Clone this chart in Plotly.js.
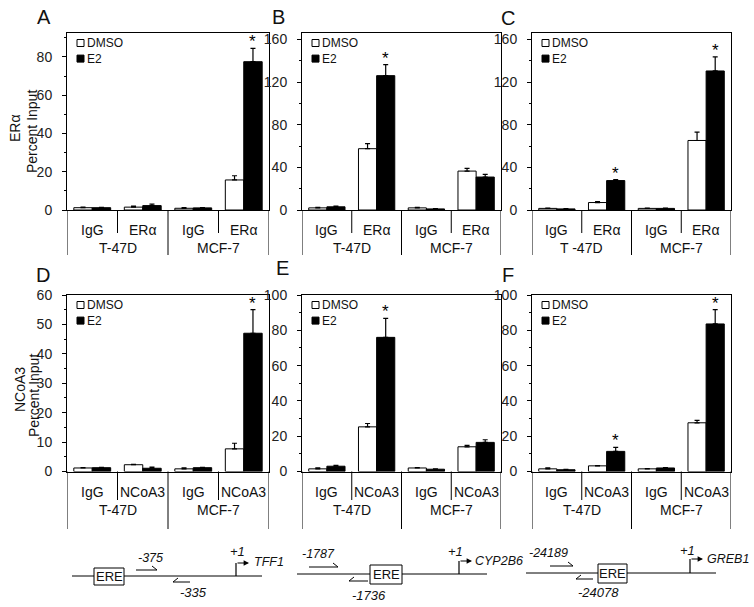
<!DOCTYPE html>
<html><head><meta charset="utf-8">
<script src="https://cdn.plot.ly/plotly-3.0.1.min.js"></script>
<style>body{margin:0;background:#fff}#chart{width:754px;height:607px}</style>
</head><body><div id="chart"></div>
<script>
// ---------------- DATA ----------------
const cellLines   = ["T-47D","T-47D","MCF-7","MCF-7"];
const cellLinesC  = ["T -47D","T -47D","MCF-7","MCF-7"];
const abERa       = ["IgG","ERα","IgG","ERα"];
const abNCoA3     = ["IgG","NCoA3","IgG","NCoA3"];
const seriesNames = ["DMSO","E2"];

const A_dmso = [1.2, 1.5, 0.9, 15.7],  A_dmsoErr = [0.3, 0.5, 0.4, 2.2];
const A_e2   = [1.2, 2.3, 1.1, 77.5],  A_e2Err   = [0.2, 0.8, 0.2, 7.0];
const A_star = [0, 0, 0, 1];
const B_dmso = [2.0, 57.5, 2.0, 36.5], B_dmsoErr = [0.5, 4.7, 0.5, 2.5];
const B_e2   = [3.0, 126, 1.0, 30.9],  B_e2Err   = [0.6, 10.3, 0.4, 2.5];
const B_star = [0, 1, 0, 0];
const C_dmso = [1.5, 7.0, 1.5, 65.2],  C_dmsoErr = [0.3, 0.8, 0.3, 7.8];
const C_e2   = [1.0, 27.6, 1.5, 130.4],C_e2Err   = [0.2, 0.9, 0.3, 13.2];
const C_star = [0, 1, 0, 1];
const D_dmso = [1.2, 2.3, 0.9, 7.7],   D_dmsoErr = [0.1, 0.1, 0.3, 1.9];
const D_e2   = [1.3, 1.1, 1.3, 47.0],  D_e2Err   = [0.1, 0.4, 0.1, 8.0];
const D_star = [0, 0, 0, 1];
const E_dmso = [1.5, 25.3, 2.0, 14.0], E_dmsoErr = [0.5, 1.9, 0.2, 0.8];
const E_e2   = [3.0, 76.0, 1.3, 16.5], E_e2Err   = [0.5, 10.8, 0.2, 1.5];
const E_star = [0, 1, 0, 0];
const F_dmso = [1.5, 3.2, 1.5, 27.6],  F_dmsoErr = [0.5, 0.2, 0.2, 1.4];
const F_e2   = [1.0, 11.4, 2.0, 83.6], F_e2Err   = [0.2, 2.3, 0.2, 8.1];
const F_star = [0, 1, 0, 1];

const yTicksA = [0,20,40,60,80];
const yTicksBC = [0,40,80,120,160];
const yTicksD = [0,10,20,30,40,50,60];
const yTicksEF = [0,20,40,60,80,100];
const panelLetters = ["A","B","C","D","E","F"];
const yTitles = [["ERα","Percent Input"],["NCoA3","Percent Input"]];
const promoters = [
  {gene:"TFF1", fwd:"-375", rev:"-335"},
  {gene:"CYP2B6", fwd:"-1787", rev:"-1736"},
  {gene:"GREB1", fwd:"-24189", rev:"-24078"}
];

// ---------------- LAYOUT HELPERS ----------------
const W = 754, H = 607;
const px = x => x / W, py = y => 1 - y / H;
const FONT = "Liberation Sans, Arial, Helvetica, sans-serif";
const cols = [[67,269],[302,501],[532,731]];
const rows = [
  {top:33, bot:210, inner:230, outer:248, shortEnd:233, longEnd:255},
  {top:295, bot:471.5, inner:491.5, outer:510, shortEnd:500, longEnd:529}
];
const BARGAP = 0.27;
const TXT = 14;
const LEG = 12;

const panels = [
  {dmso:A_dmso, dErr:A_dmsoErr, e2:A_e2, eErr:A_e2Err, star:A_star, ab:abERa, cl:cellLines, range:[0,92.5], ticks:yTicksA, minor:10},
  {dmso:B_dmso, dErr:B_dmsoErr, e2:B_e2, eErr:B_e2Err, star:B_star, ab:abERa, cl:cellLines, range:[0,166], ticks:yTicksBC, minor:20},
  {dmso:C_dmso, dErr:C_dmsoErr, e2:C_e2, eErr:C_e2Err, star:C_star, ab:abERa, cl:cellLinesC, range:[0,166], ticks:yTicksBC, minor:20},
  {dmso:D_dmso, dErr:D_dmsoErr, e2:D_e2, eErr:D_e2Err, star:D_star, ab:abNCoA3, cl:cellLines, range:[0,60], ticks:yTicksD, minor:5},
  {dmso:E_dmso, dErr:E_dmsoErr, e2:E_e2, eErr:E_e2Err, star:E_star, ab:abNCoA3, cl:cellLines, range:[0,100], ticks:yTicksEF, minor:10},
  {dmso:F_dmso, dErr:F_dmsoErr, e2:F_e2, eErr:F_e2Err, star:F_star, ab:abNCoA3, cl:cellLines, range:[0,100], ticks:yTicksEF, minor:10}
];
const letterPos = [[44,17],[278,17],[508,18],[43,275],[282,268],[508,275]];

const data = [], shapes = [], annotations = [];
const layout = {
  width: W, height: H, margin:{l:0,r:0,t:0,b:0},
  paper_bgcolor:"#fff", plot_bgcolor:"#fff",
  showlegend:false, barmode:"group", bargap:BARGAP, bargroupgap:0,
  font:{family:FONT, size:TXT, color:"#111"}
};

panels.forEach((p, i) => {
  const r = Math.floor(i/3), c = i % 3;
  const row = rows[r], col = cols[c];
  const n = i === 0 ? "" : String(i+1);
  const xa = "x"+n, ya = "y"+n;
  const idx = p.ab.map((_, k) => k);
  const errStyle = {type:"data", symmetric:false, thickness:1.2, width:2.5, color:"#000"};
  data.push({type:"bar", name:seriesNames[0], x:idx, y:p.dmso, xaxis:xa, yaxis:ya,
    marker:{color:"#fff", line:{color:"#000", width:1}},
    error_y:Object.assign({array:p.dErr, arrayminus:p.dErr.map(()=>0)}, errStyle)});
  data.push({type:"bar", name:seriesNames[1], x:idx, y:p.e2, xaxis:xa, yaxis:ya,
    marker:{color:"#000", line:{color:"#000", width:1}},
    error_y:Object.assign({array:p.eErr, arrayminus:p.eErr.map(()=>0)}, errStyle)});

  layout["xaxis"+n] = {domain:[px(col[0]), px(col[1])], range:[-0.5, 3.5], anchor:ya,
    showline:true, mirror:true, linecolor:"#000", linewidth:1, showticklabels:false,
    ticks:"", showgrid:false, zeroline:false, fixedrange:true};
  layout["yaxis"+n] = {domain:[py(row.bot), py(row.top)], range:p.range, anchor:xa,
    showline:true, mirror:true, linecolor:"#000", linewidth:1,
    ticks:"outside", ticklen:4, tickwidth:1, tickcolor:"#000",
    tickmode:"array", tickvals:p.ticks,
    minor:{dtick:p.minor, ticks:"outside", ticklen:2.5, tickcolor:"#000"},
    tickfont:{family:FONT, size:TXT, color:"#222"}, ticklabelstandoff:7,
    showgrid:false, zeroline:false, fixedrange:true};

  // category separators and labels
  for (let k = 0; k <= idx.length; k++) {
    const isEdge = (k === 0 || k === idx.length);
    const isGroup = isEdge || p.cl[k] !== p.cl[k-1];
    shapes.push({type:"line", xref:xa, yref:"paper", x0:k-0.5, x1:k-0.5,
      y0:py(row.bot), y1:py(isGroup ? row.longEnd : row.shortEnd), line:{color:"#000", width:1}});
  }
  idx.forEach(k => annotations.push({xref:xa, yref:"paper", x:k, y:py(row.inner), text:p.ab[k],
    showarrow:false, font:{size:TXT, color:"#111"}, yanchor:"middle"}));
  const groups = [...new Set(p.cl)];
  groups.forEach(g => {
    const ks = idx.filter(k => p.cl[k] === g);
    const mid = ks.reduce((a,b)=>a+b,0)/ks.length;
    annotations.push({xref:xa, yref:"paper", x:mid, y:py(row.outer), text:g,
      showarrow:false, font:{size:TXT, color:"#111"}, yanchor:"middle"});
  });
  // significance stars (on E2 bars)
  const bw = (1 - BARGAP) / 2;
  p.star.forEach((s, k) => {
    if (s) annotations.push({xref:xa, yref:ya, x:k + bw/2, y:p.e2[k] + p.eErr[k], text:"*",
      showarrow:false, yanchor:"bottom", yshift:-5, font:{size:17, color:"#000"}});
  });
  // legend (one two-line text block with keyed squares)
  const L = col[0], T = row.top;
  const lh = LEG * 1.3;
  const c1 = T + 10, c2 = c1 + lh;
  [["#fff",c1],["#000",c2]].forEach(it => {
    shapes.push({type:"rect", xref:"paper", yref:"paper", x0:px(L+10), x1:px(L+17),
      y0:py(it[1]+3.5), y1:py(it[1]-3.5), fillcolor:it[0], line:{color:"#000", width:1}});
  });
  annotations.push({xref:"paper", yref:"paper", x:px(L+18), y:py((c1+c2)/2),
    text:seriesNames.join("<br>"), align:"left",
    xanchor:"left", yanchor:"middle", showarrow:false, font:{size:LEG, color:"#111"}});
  // panel letter
  annotations.push({xref:"paper", yref:"paper", x:px(letterPos[i][0]), y:py(letterPos[i][1]),
    text:panelLetters[i], showarrow:false, xanchor:"center", yanchor:"middle",
    font:{size:20, color:"#111"}});
});

// y-axis titles
[[15,128,32,132],[20,390,34,396]].forEach((pos, r) => {
  annotations.push({xref:"paper", yref:"paper", x:px(pos[0]), y:py(pos[1]), text:yTitles[r][0],
    textangle:-90, showarrow:false, xanchor:"center", yanchor:"middle", font:{size:TXT, color:"#111"}});
  annotations.push({xref:"paper", yref:"paper", x:px(pos[2]), y:py(pos[3]), text:yTitles[r][1],
    textangle:-90, showarrow:false, xanchor:"center", yanchor:"middle", font:{size:TXT, color:"#111"}});
});

// promoter schematics
const diag = [
  {line:[72,262,576], ere:[94,124,568,585], fwd:[136,157,570], fwdL:[150,558], rev:[173,190,582], revL:[193,592], tss:[236,576,563,249], p1:[237,551], gene:[252,562]},
  {line:[297,487,574], ere:[370,402,565,584], fwd:[309,338,567], fwdL:[318,554], rev:[349,368,581], revL:[369,595], tss:[459,574,561,472], p1:[456,551], gene:[473,561]},
  {line:[526,716,573], ere:[598,627,564,583], fwd:[550,573,566], fwdL:[548,553], rev:[576,593,579], revL:[598,592], tss:[690,573,559,703], p1:[687,550], gene:[705,559]}
];
const ln = (x0,y0,x1,y1,w) => shapes.push({type:"line", xref:"paper", yref:"paper",
  x0:px(x0), y0:py(y0), x1:px(x1), y1:py(y1), line:{color:"#000", width:w||1}});
const txt = (x,y,t,anchor,size) => annotations.push({xref:"paper", yref:"paper", x:px(x), y:py(y),
  text:t, showarrow:false, xanchor:anchor||"center", yanchor:"middle", font:{size:size||12, color:"#111"}});
diag.forEach((d, j) => {
  ln(d.line[0], d.line[2], d.line[1], d.line[2], 1);
  shapes.push({type:"rect", xref:"paper", yref:"paper", x0:px(d.ere[0]), x1:px(d.ere[1]),
    y0:py(d.ere[3]), y1:py(d.ere[2]), fillcolor:"#fff", line:{color:"#000", width:1}});
  txt((d.ere[0]+d.ere[1])/2, (d.ere[2]+d.ere[3])/2, "ERE", "center", 13);
  ln(d.fwd[0], d.fwd[2], d.fwd[1], d.fwd[2], 1);
  ln(d.fwd[1], d.fwd[2], d.fwd[1]-5, d.fwd[2]-4, 1);
  ln(d.rev[0], d.rev[2], d.rev[1], d.rev[2], 1);
  ln(d.rev[0], d.rev[2], d.rev[0]+5, d.rev[2]-4, 1);
  txt(d.fwdL[0], d.fwdL[1], "<i>"+promoters[j].fwd+"</i>", "center", 12.5);
  txt(d.revL[0], d.revL[1], "<i>"+promoters[j].rev+"</i>", "center", 13);
  ln(d.tss[0], d.tss[1], d.tss[0], d.tss[2], 1.2);
  annotations.push({xref:"paper", yref:"paper", x:px(d.tss[3]), y:py(d.tss[2]),
    axref:"pixel", ayref:"pixel", ax:-(d.tss[3]-d.tss[0]), ay:0, text:"", showarrow:true,
    arrowhead:2, arrowsize:0.9, arrowwidth:1.2, arrowcolor:"#000", standoff:0});
  txt(d.p1[0], d.p1[1], "<i>+1</i>", "center", 13);
  txt(d.gene[0], d.gene[1], "<i>"+promoters[j].gene+"</i>", "left", 12.5);
});

layout.shapes = shapes;
layout.annotations = annotations;
Plotly.newPlot("chart", data, layout, {staticPlot:true, displayModeBar:false});
</script>
</body></html>
